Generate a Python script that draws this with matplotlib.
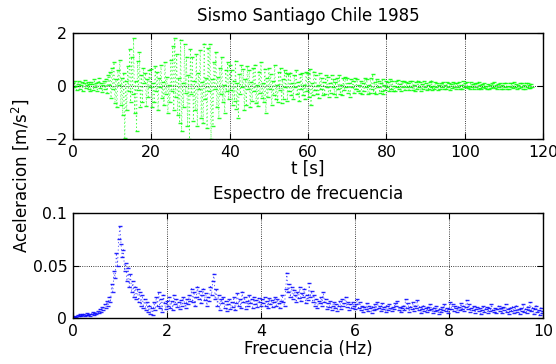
import matplotlib
matplotlib.use("Agg")
import matplotlib.pyplot as plt
import numpy as np

plt.rcParams['font.family'] = ['DejaVu Sans']

# aceleracion del sismo, una muestra cada 0.25 s
dt = 0.25
acel = [
    0.12, -0.05, 0.18, 0.02, -0.15, 0.08, 0.2, -0.1, 0.05, 0.15, -0.18, 0.1, 0.22, -0.06, 0.03, 0.17, -0.12, 0.09, -0.2, 0.14,
    0.06, -0.14, 0.25, -0.03, 0.1, -0.2, 0.15, 0.3, -0.08, 0.12, -0.22, 0.05, 0.18, -0.1, 0.28, -0.25, 0.4, 0.05, 0.55, -0.45,
    0.7, -0.1, 0.9, -0.62, 0.25, -0.8, 0.6, 0.05, 1.0, -0.7, 0.3, -1.1, 0.5, -1.95, 0.2, -0.9, 0.75, -0.2, 1.4, -0.6,
    1.1, -0.3, 1.8, -1.0, 0.2, -1.7, 0.95, -0.15, 1.3, -0.8, 0.4, -0.6, 0.7, 0.1, 0.5, -0.75, 0.25, -0.4, 0.6, -0.05,
    0.65, -0.8, 0.1, -0.6, 0.75, -0.2, 0.55, -0.9, 0.3, -0.05, 0.8, -0.45, 0.15, -0.7, 0.9, -0.3, 0.35, -1.0, 0.05, -0.6,
    1.0, -0.2, 1.5, -0.9, 1.8, -0.4, 1.2, -1.1, 0.3, -1.4, 1.75, -1.7, 0.1, -0.8, 1.6, -0.25, 1.1, -1.5, 0.4, -2.0,
    1.4, -0.3, 1.1, -1.3, 0.2, -0.9, 1.2, -1.5, 0.5, -0.1, 1.35, -1.2, 0.15, -1.4, 1.6, -0.5, 0.3, -1.6, 1.45, -0.2,
    1.6, -2.0, 0.25, -1.5, 0.9, -0.1, 1.3, -0.8, 0.35, -1.2, 0.7, -0.3, 1.1, -0.6, 0.05, -1.0, 0.6, -0.2, 0.9, -0.5,
    0.8, -0.15, 0.6, -0.7, 0.2, -0.55, 0.95, -0.85, 0.1, -1.2, 0.45, -0.3, 0.8, -0.05, 0.65, -0.9, 0.25, -0.7, 0.75, -0.1,
    0.6, -0.8, 0.15, -0.55, 0.7, -0.2, 0.8, -0.65, 0.05, -0.75, 0.55, -0.25, 0.9, -0.45, 0.1, -0.6, 0.65, -1.0, 0.3, -0.4,
    0.7, -0.1, 0.45, -0.7, 0.2, -0.35, 0.8, -0.5, 0.05, -0.6, 0.55, -0.15, 0.7, -0.65, 0.25, -0.5, 0.6, -0.05, 0.5, -0.55,
    0.45, -0.2, 0.5, -0.35, 0.1, -0.5, 0.4, -0.05, 0.6, -0.3, 0.15, -0.55, 0.45, -0.1, 0.5, -0.35, 0.05, -0.5, 0.55, -0.2,
    0.5, -0.4, 0.65, -0.7, 0.1, -0.35, 0.55, -0.15, 0.4, -0.3, 0.05, -0.45, 0.5, -0.1, 0.3, -0.35, 0.15, -0.3, 0.4, -0.05,
    0.35, -0.4, 0.1, -0.25, 0.4, -0.05, 0.25, -0.3, 0.15, -0.4, 0.3, -0.1, 0.4, -0.3, 0.05, -0.35, 0.3, -0.15, 0.35, -0.05,
    0.3, -0.25, 0.1, -0.4, 0.25, -0.05, 0.2, -0.25, 0.3, -0.1, 0.25, -0.2, 0.05, -0.25, 0.2, -0.3, 0.1, -0.2, 0.3, -0.05,
    0.25, -0.3, 0.05, -0.25, 0.3, -0.1, 0.45, -0.25, 0.15, -0.3, 0.25, -0.05, 0.2, -0.25, 0.1, -0.2, 0.25, -0.3, 0.05, -0.15,
    0.2, -0.05, 0.15, -0.2, 0.25, -0.1, 0.2, -0.18, 0.02, -0.2, 0.18, -0.05, 0.22, -0.12, 0.08, -0.2, 0.18, -0.02, 0.2, -0.15,
    0.15, -0.05, 0.12, -0.15, 0.2, -0.02, 0.18, -0.15, 0.05, -0.18, 0.15, -0.1, 0.2, -0.03, 0.15, -0.18, 0.06, -0.1, 0.18, -0.04,
    0.12, -0.15, 0.03, -0.1, 0.15, -0.05, 0.2, -0.15, 0.02, -0.12, 0.15, -0.04, 0.12, -0.15, 0.05, -0.1, 0.12, -0.02, 0.15, -0.12,
    0.04, -0.12, 0.15, -0.03, 0.12, -0.15, 0.06, -0.08, 0.15, -0.02, 0.1, -0.1, 0.12, -0.05, 0.15, -0.12, 0.03, -0.1, 0.18, -0.04,
    0.12, -0.03, 0.15, -0.08, 0.02, -0.12, 0.14, -0.05, 0.08, -0.12, 0.1, -0.02, 0.12, -0.1, 0.15, -0.06, 0.04, -0.12, 0.08, -0.03,
    0.1, -0.08, 0.02, -0.1, 0.08, -0.12, 0.04, -0.06, 0.12, -0.03, 0.14, -0.08, 0.05, -0.12, 0.08, -0.02, 0.12, -0.1, 0.03, -0.12,
    0.1, -0.04, 0.12, -0.1, 0.02, -0.1, 0.12, -0.05, 0.1, -0.06, 0.14, -0.02, 0.08, -0.12, 0.04, -0.08, 0.12, -0.03, 0.1, -0.1,
    0.04, -0.1, 0.12, -0.02, 0.1, -0.08, 0.05, -0.06, 0.08, -0.05,
]

# espectro, una muestra cada 0.025 Hz desde 0.025
df = 0.025
espectro = [
    0.001, 0.002, 0.001, 0.003, 0.002, 0.004, 0.002, 0.003, 0.004, 0.002,
    0.003, 0.005, 0.003, 0.004, 0.002, 0.004, 0.006, 0.003, 0.005, 0.004,
    0.007, 0.005, 0.009, 0.006, 0.011, 0.008, 0.013, 0.01, 0.016, 0.012,
    0.02, 0.015, 0.032, 0.025, 0.045, 0.038, 0.062, 0.05, 0.075, 0.088,
    0.07, 0.058, 0.065, 0.045, 0.052, 0.035, 0.048, 0.03, 0.042, 0.025,
    0.035, 0.02, 0.03, 0.018, 0.028, 0.015, 0.025, 0.012, 0.022, 0.01,
    0.018, 0.008, 0.015, 0.006, 0.012, 0.004, 0.01, 0.003, 0.015, 0.008,
    0.02, 0.012, 0.025, 0.01, 0.018, 0.006, 0.022, 0.014, 0.009, 0.016,
    0.012, 0.02, 0.01, 0.016, 0.008, 0.022, 0.013, 0.018, 0.011, 0.015,
    0.009, 0.017, 0.012, 0.02, 0.014, 0.01, 0.018, 0.013, 0.022, 0.016,
    0.028, 0.015, 0.025, 0.012, 0.02, 0.03, 0.018, 0.026, 0.014, 0.022,
    0.028, 0.017, 0.024, 0.012, 0.02, 0.016, 0.03, 0.022, 0.035, 0.042,
    0.018, 0.028, 0.012, 0.022, 0.008, 0.018, 0.014, 0.02, 0.01, 0.016,
    0.007, 0.013, 0.018, 0.009, 0.015, 0.011, 0.02, 0.008, 0.014, 0.024,
    0.012, 0.018, 0.01, 0.025, 0.015, 0.02, 0.009, 0.016, 0.012, 0.022,
    0.014, 0.018, 0.01, 0.02, 0.013, 0.017, 0.011, 0.019, 0.015, 0.012,
    0.018, 0.014, 0.02, 0.012, 0.016, 0.01, 0.019, 0.013, 0.017, 0.011,
    0.015, 0.02, 0.012, 0.018, 0.014, 0.01, 0.016, 0.022, 0.015, 0.012,
    0.028, 0.043, 0.025, 0.032, 0.02, 0.03, 0.018, 0.027, 0.022, 0.015,
    0.025, 0.019, 0.03, 0.016, 0.024, 0.02, 0.028, 0.014, 0.022, 0.017,
    0.033, 0.02, 0.026, 0.015, 0.022, 0.012, 0.018, 0.01, 0.016, 0.014,
    0.02, 0.012, 0.025, 0.015, 0.018, 0.009, 0.014, 0.011, 0.016, 0.008,
    0.012, 0.015, 0.01, 0.013, 0.007, 0.012, 0.016, 0.009, 0.018, 0.012,
    0.014, 0.02, 0.011, 0.015, 0.008, 0.013, 0.01, 0.015, 0.012, 0.009,
    0.013, 0.018, 0.01, 0.015, 0.008, 0.012, 0.006, 0.011, 0.009, 0.014,
    0.007, 0.012, 0.01, 0.005, 0.011, 0.008, 0.013, 0.009, 0.015, 0.01,
    0.012, 0.007, 0.014, 0.009, 0.011, 0.006, 0.012, 0.008, 0.013, 0.01,
    0.007, 0.011, 0.009, 0.014, 0.012, 0.016, 0.008, 0.011, 0.006, 0.01,
    0.012, 0.008, 0.018, 0.01, 0.014, 0.006, 0.011, 0.009, 0.015, 0.007,
    0.012, 0.01, 0.017, 0.008, 0.011, 0.005, 0.009, 0.012, 0.007, 0.01,
    0.006, 0.011, 0.008, 0.013, 0.009, 0.005, 0.01, 0.007, 0.012, 0.008,
    0.004, 0.009, 0.006, 0.011, 0.008, 0.013, 0.007, 0.01, 0.005, 0.009,
    0.015, 0.009, 0.013, 0.007, 0.012, 0.01, 0.006, 0.011, 0.008, 0.014,
    0.009, 0.012, 0.007, 0.011, 0.017, 0.009, 0.013, 0.006, 0.01, 0.008,
    0.012, 0.005, 0.009, 0.011, 0.007, 0.01, 0.004, 0.008, 0.012, 0.006,
    0.009, 0.011, 0.005, 0.01, 0.007, 0.013, 0.008, 0.006, 0.01, 0.005,
    0.009, 0.012, 0.007, 0.01, 0.005, 0.011, 0.008, 0.013, 0.006, 0.009,
    0.004, 0.01, 0.007, 0.011, 0.005, 0.008, 0.012, 0.006, 0.009, 0.004,
    0.01, 0.007, 0.013, 0.006, 0.009, 0.005, 0.011, 0.008, 0.015, 0.007,
    0.01, 0.004, 0.009, 0.012, 0.006, 0.008, 0.003, 0.01, 0.005, 0.007,
]

t = np.arange(len(acel)) * dt
f = (np.arange(len(espectro)) + 1) * df

fig = plt.figure(figsize=(5.56, 3.64), dpi=100)
ax1 = fig.add_axes([0.131, 0.618, 0.846, 0.291])
ax2 = fig.add_axes([0.131, 0.126, 0.846, 0.289])

ax1.plot(t, acel, '--', dashes=(1.5, 3), lw=0.6, color=(0, 1, 0), alpha=0.7)
ax1.plot(t, acel, linestyle='none', marker='_', markersize=3.5, mew=1.0, color=(0, 1, 0), alpha=0.85)
ax1.set_xlim(0, 120)
ax1.set_ylim(-2, 2)
ax1.set_xticks([0, 20, 40, 60, 80, 100, 120])
ax1.set_yticks([-2, 0, 2])
ax1.set_yticklabels(['\u22122', '0', '2'])
ax1.set_title('Sismo Santiago Chile 1985', fontsize=12, pad=9)
ax1.set_xlabel('t [s]', fontsize=12, labelpad=0)

ax2.plot(f, espectro, '--', dashes=(1.5, 3), lw=0.6, color=(0, 0, 1), alpha=0.7)
ax2.plot(f, espectro, linestyle='none', marker='_', markersize=3.5, mew=1.0, color=(0, 0, 1), alpha=0.85)
ax2.set_xlim(0, 10)
ax2.set_ylim(0, 0.1)
ax2.set_xticks([0, 2, 4, 6, 8, 10])
ax2.set_yticks([0, 0.05, 0.1])
ax2.set_yticklabels(['0', '0.05', '0.1'])
ax2.set_title('Espectro de frecuencia', fontsize=12, pad=10)
ax2.set_xlabel('Frecuencia (Hz)', fontsize=12, labelpad=1)

for ax in (ax1, ax2):
    ax.grid(True, linestyle=':', color='k', linewidth=0.6)
    ax.tick_params(direction='in', top=True, right=True, length=4, labelsize=11.3, pad=4)
    for s in ax.spines.values():
        s.set_linewidth(1.0)

fig.text(0.036, 0.516, 'Aceleracion [m/s$^2$]', rotation=90, fontsize=12, ha='center', va='center')

fig.savefig('out.png', dpi=100)
